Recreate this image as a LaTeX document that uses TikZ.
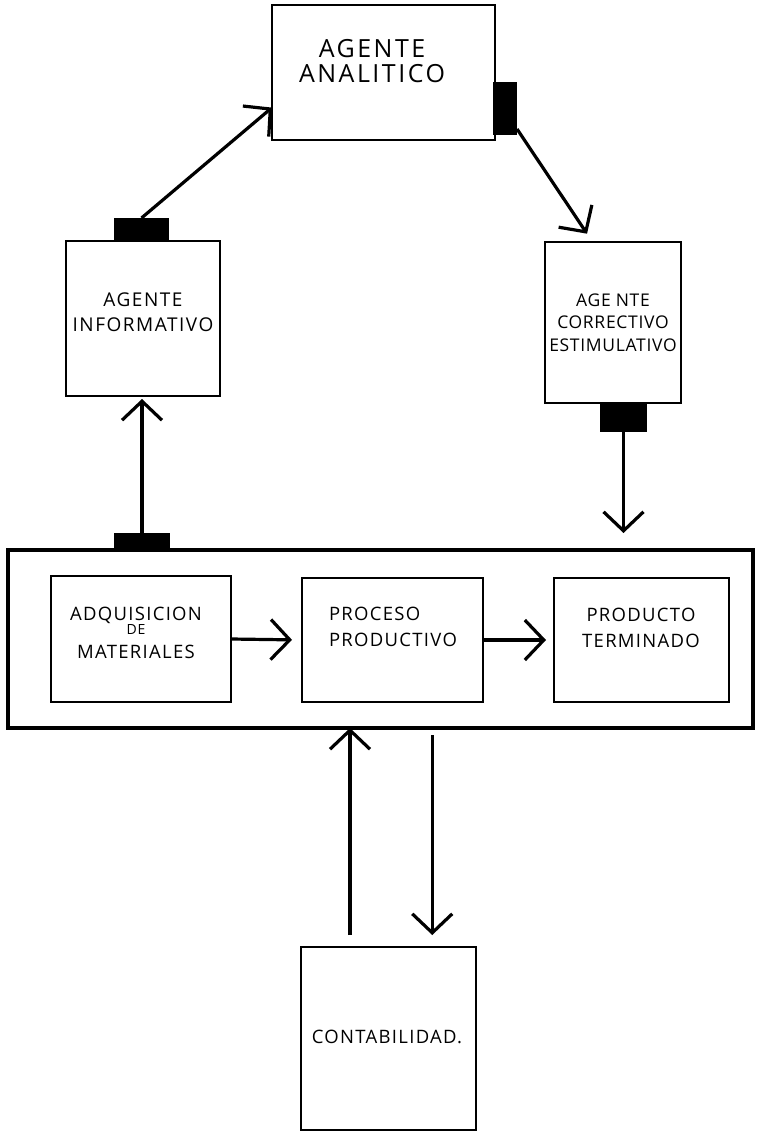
\documentclass[tikz,border=0pt]{standalone}
\usepackage{fontspec}
\setmainfont{Open Sans}
\usetikzlibrary{arrows.meta,calc}
\begin{document}
\begin{tikzpicture}[x=1pt,y=-1pt,
  box/.style n args={2}{draw,line width=1.6pt,inner sep=0pt,outer sep=0pt,
    minimum width=#1,minimum height=#2},
  frame/.style n args={2}{draw,line width=3.6pt,inner sep=0pt,outer sep=0pt,
    minimum width=#1,minimum height=#2},
  tab/.style n args={2}{fill=black,inner sep=0pt,outer sep=0pt,
    minimum width=#1,minimum height=#2},
  lbl/.style={align=center,inner sep=0pt},
  big/.style={font=\addfontfeatures{LetterSpace=10}\fontsize{25}{25}\selectfont},
  mid/.style={font=\addfontfeatures{LetterSpace=8}\fontsize{19}{25}\selectfont},
  small/.style={font=\addfontfeatures{LetterSpace=7}\fontsize{18.5}{25}\selectfont},
  narrow/.style={font=\addfontfeatures{LetterSpace=4}\fontsize{17.5}{25}\selectfont},
  flow/.style={line width=3.2pt,-{Straight Barb[length=19pt,width=40pt]}}]
\useasboundingbox (0,0) rectangle (756,1137);

% agents
\node[box={223pt}{135pt}] (anal) at (383.5,72.5) {};
\node[box={154pt}{155pt}] (info) at (143,318.5) {};
\node[box={136pt}{161pt}] (corr) at (613,322.5) {};

% black connection tabs
\node[tab={24pt}{53pt}] (tabA) at (505,108.5) {};
\node[tab={55pt}{23pt}] (tabI) at (141.5,229.5) {};
\node[tab={47pt}{29pt}] (tabC) at (623.5,417.5) {};

% production system
\node[frame={745pt}{178pt}] (main) at (380.5,639) {};
\node[tab={56pt}{17pt}] (tabM) at (142,541.5) {};
\node[box={180pt}{126pt}] (adq) at (141,639) {};
\node[box={181pt}{124pt}] (proc) at (392.5,640) {};
\node[box={175pt}{124pt}] (prod) at (641.5,640) {};

% accounting
\node[box={175pt}{183pt}] (conta) at (388.5,1038.5) {};

% labels
\node[lbl,big] (tAnal) at (372,61) {AGENTE\\ANALITICO};
\node[lbl,mid] (tInfo) at (143,312) {AGENTE\\INFORMATIVO};
\node[lbl,narrow] (tCorr) at (613,323) {AGE\hspace{5pt}NTE\\[-3pt]CORRECTIVO\\[-2pt]ESTIMULATIVO};
\node[lbl,small] (tAdq) at (136,633) {ADQUISICION\\[-11pt]{\fontsize{14}{14}\selectfont DE}\\[-1pt]MATERIALES};
\node[lbl,small,align=left] (tProc) at (393,627) {PROCESO\\[1pt]PRODUCTIVO};
\node[lbl,small] (tProd) at (641,628) {PRODUCTO\\[1pt]TERMINADO};
\node[lbl,small] (tConta) at (387,1037) {CONTABILIDAD.};

% connectors
\draw[flow] (tabI.north) -- ($(anal.south west)!0.24!(anal.north west)$);
\draw[flow,shorten >=10pt] ($(tabA.south east)+(0,-6)$) -- ($(corr.north west)!0.35!(corr.north east)$);
\draw[flow,shorten >=3pt] (tabM.north) -- (tabM.north |- info.south);
\draw[flow,shorten >=17pt] (tabC.south) -- (tabC.south |- main.north);
\draw[flow,shorten >=10pt] (adq.east) -- (proc.west);
\draw[flow,shorten >=8pt] (proc.east) -- (prod.west);
\coordinate (cUp) at ($(conta.north west)!0.28!(conta.north east)$);
\coordinate (cDown) at ($(conta.north west)!0.75!(conta.north east)$);
\draw[flow,shorten <=12pt,shorten >=0pt] (cUp) -- (cUp |- main.south);
\draw[flow,shorten <=7pt,shorten >=12pt] (cDown |- main.south) -- (cDown);
\end{tikzpicture}
\end{document}
